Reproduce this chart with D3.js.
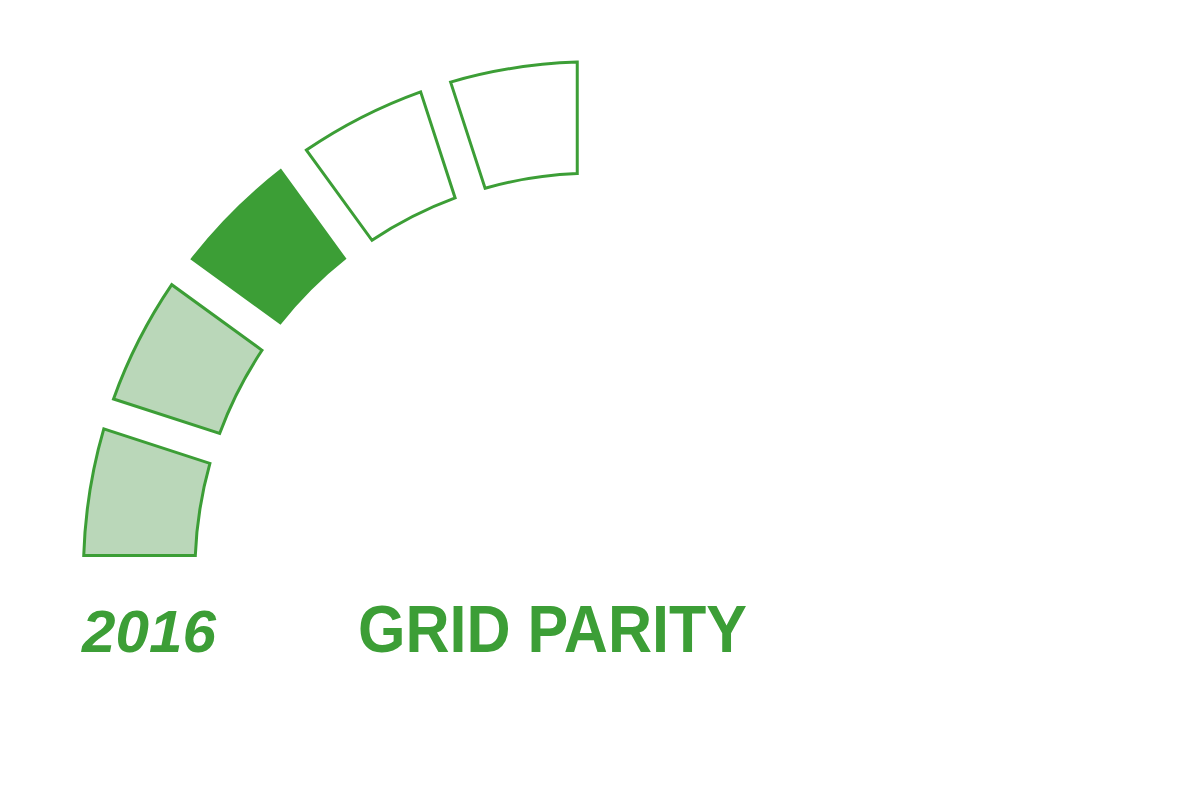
<!DOCTYPE html>
<html>

<head>
    <title>Grid parity gauge</title>
    <meta charset="utf-8">
    <script src="https://cdnjs.cloudflare.com/ajax/libs/d3/7.8.5/d3.min.js"></script>
    <style>
        body { margin: 0; background: #fff; }
        svg { display: block; }
        .label { font-family: "Liberation Sans", Arial, sans-serif; font-weight: bold; fill: #3c9e36; }
    </style>
</head>

<body>
    <svg width="1200" height="800"></svg>
    <script>
        // gauge data
        var stages = ["stage 1", "stage 2", "stage 3", "stage 4", "stage 5"];
        var states = ["past", "past", "current", "future", "future"];
        var yearLabel = "2016";
        var goalLabel = "GRID PARITY";

        var green = "#3c9e36";
        var fill = d3.scaleOrdinal()
            .domain(["past", "current", "future"])
            .range(["#bad7b9", green, "#ffffff"]);

        var cx = 593, cy = 571.3;

        var angle = d3.scaleLinear()
            .domain([0, stages.length])
            .range([-Math.PI / 2, 0]);

        var padR = 646.5;
        var arc = d3.arc()
            .innerRadius(398)
            .outerRadius(509.5)
            .padRadius(padR)
            .padAngle(2 * Math.asin(15.75 / padR))
            .startAngle(function(d, i) { return angle(i); })
            .endAngle(function(d, i) { return angle(i + 1); });

        var svg = d3.select("svg");

        svg.append("g")
            .attr("transform", "translate(" + cx + "," + cy + ")")
            .selectAll("path")
            .data(stages)
            .enter()
            .append("path")
            .attr("d", arc)
            .style("fill", function(d, i) { return fill(states[i]); })
            // the current stage is a plain solid block, no outline
            .style("stroke", function(d, i) { return states[i] === "current" ? "none" : green; })
            .style("stroke-width", 3)
            .style("stroke-linejoin", "miter");

        svg.append("text")
            .attr("class", "label")
            .attr("x", 82)
            .attr("y", 651.5)
            .style("font-size", "60px")
            .style("font-style", "italic")
            .attr("textLength", 134)
            .attr("lengthAdjust", "spacingAndGlyphs")
            .text(yearLabel);

        svg.append("text")
            .attr("class", "label")
            .attr("x", 358)
            .attr("y", 651.5)
            .style("font-size", "66.5px")
            .attr("textLength", 389)
            .attr("lengthAdjust", "spacingAndGlyphs")
            .text(goalLabel);
    </script>
</body>

</html>
